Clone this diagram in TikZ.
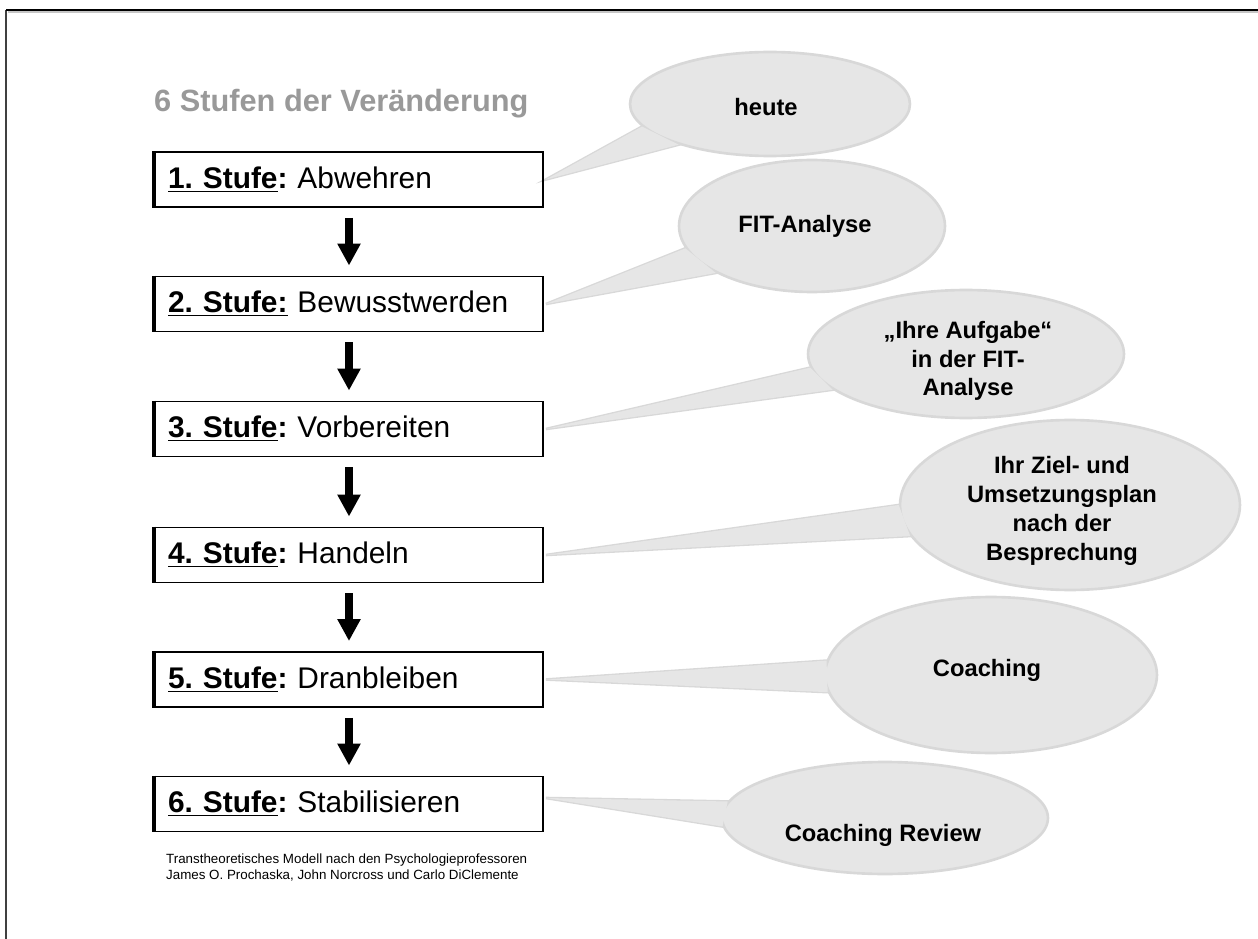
\documentclass[tikz,border=0pt]{standalone}
\usepackage{fontspec}
\setmainfont{Liberation Sans}
\usetikzlibrary{shapes.geometric,arrows.meta}
\definecolor{bubblefill}{HTML}{E6E6E6}
\definecolor{bubbleedge}{HTML}{D8D8D8}
\definecolor{titlegray}{HTML}{999999}
\pgfdeclarelayer{background}
\pgfdeclarelayer{foreground}
\pgfsetlayers{background,main,foreground}
\frenchspacing
\tikzset{
  stage/.style={draw, line width=1.1pt, minimum height=1.1cm, text width=7.24cm,
    inner xsep=0.26cm, inner ysep=0pt, align=left, font=\fontsize{17}{19}\selectfont},
  flow/.style={line width=0.16cm, -{Triangle[length=0.44cm,width=0.44cm]},
    shorten <=0.2cm, shorten >=0.2cm},
  bubble/.style={ellipse, inner sep=0pt, fill=bubblefill, draw=bubbleedge, line width=1.5pt},
  tail/.style={fill=bubblefill},
  bubbletext/.style={font=\fontsize{13.5}{16.4}\selectfont\bfseries, align=center},
}
\begin{document}
\begin{tikzpicture}[x=0.02cm, y=-0.02cm]
  \useasboundingbox (0,0) rectangle (1258,939);
  % frame
  \draw[line width=1pt, gray!45] (8,12) -- (1258,12);
  \draw[line width=1.2pt, black!75] (6,939) -- (6,10);
  \draw[line width=1.2pt] (6,10) -- (1258,10);

  \node[anchor=base west, text=titlegray, font=\fontsize{17.5}{20}\selectfont\bfseries]
    (title) at (148,112) {6 Stufen der Veränderung};

  % stages
  \node[stage] (s1) at (349,179.5) {\underline{\textbf{1. Stufe}}\textbf{:} Abwehren};
  \node[stage] (s2) at (349,304) {\underline{\textbf{2. Stufe:}} Bewusstwerden};
  \node[stage] (s3) at (349,429) {\underline{\textbf{3. Stufe}}\textbf{:} Vorbereiten};
  \node[stage] (s4) at (349,555) {\underline{\textbf{4. Stufe}}\textbf{:} Handeln};
  \node[stage] (s5) at (349,679.5) {\underline{\textbf{5. Stufe}}\textbf{:} Dranbleiben};
  \node[stage] (s6) at (349,804) {\underline{\textbf{6. Stufe}}\textbf{:} Stabilisieren};
  \foreach \i in {1,...,6}
    \draw[line width=2.2pt] (s\i.north west) -- (s\i.south west);

  \foreach \a/\b in {s1/s2,s2/s3,s3/s4,s4/s5,s5/s6}
    \draw[flow] (\a) -- (\b);

  \node[anchor=north west, align=left, font=\fontsize{7.6}{8.8}\selectfont]
    (note) at (160,848) {Transtheoretisches Modell nach den Psychologieprofessoren\\
    James O. Prochaska, John Norcross und Carlo DiClemente};

  % bubbles
  \node[bubble, minimum width=5.6cm, minimum height=2.08cm] (b1) at (770,104) {};
  \node[bubble, minimum width=5.32cm, minimum height=2.64cm] (b2) at (812,226) {};
  \node[bubble, minimum width=6.32cm, minimum height=2.56cm] (b3) at (966,354) {};
  \node[bubble, minimum width=6.8cm, minimum height=3.4cm] (b4) at (1070,505) {};
  \node[bubble, minimum width=6.64cm, minimum height=3.12cm] (b5) at (991,675) {};
  \node[bubble, minimum width=6.52cm, minimum height=2.24cm] (b6) at (885,818) {};

  \begin{pgfonlayer}{background}
  \foreach \i/\p/\q/\dy in {1/190.6/204/0,2/190.4/206/0,3/185/195.5/0,
                            4/180/191/0,5/175/186/0,6/174/183.5/0.12}
    \filldraw[tail, draw=bubbleedge, line width=1.5pt]
      ([xshift=0.04cm, yshift=\dy cm]s\i.east) -- (b\i.\p) -- (b\i.\q) -- cycle;
  \end{pgfonlayer}
  \begin{pgfonlayer}{foreground}
  \foreach \i/\p/\q/\dy in {1/190.6/204/0,2/190.4/206/0,3/185/195.5/0,
                            4/180/191/0,5/175/186/0,6/174/183.5/0.12}
    \fill[tail] ([xshift=0.04cm, yshift=\dy cm]s\i.east) -- (b\i.\p) -- (b\i.\q) -- cycle;
  \end{pgfonlayer}

  \node[bubbletext] (t1) at (766,107) {heute};
  \node[bubbletext] (t2) at (805,226) {FIT-Analyse};
  \node[bubbletext] (t3) at (968,361) {„Ihre Aufgabe“\\in der FIT-\\Analyse};
  \node[bubbletext] (t4) at (1062,511) {Ihr Ziel- und\\Umsetzungsplan\\nach der\\Besprechung};
  \node[bubbletext] (t5) at (987,670) {Coaching};
  \node[bubbletext] (t6) at (883,835) {Coaching Review};
\end{tikzpicture}
\end{document}
